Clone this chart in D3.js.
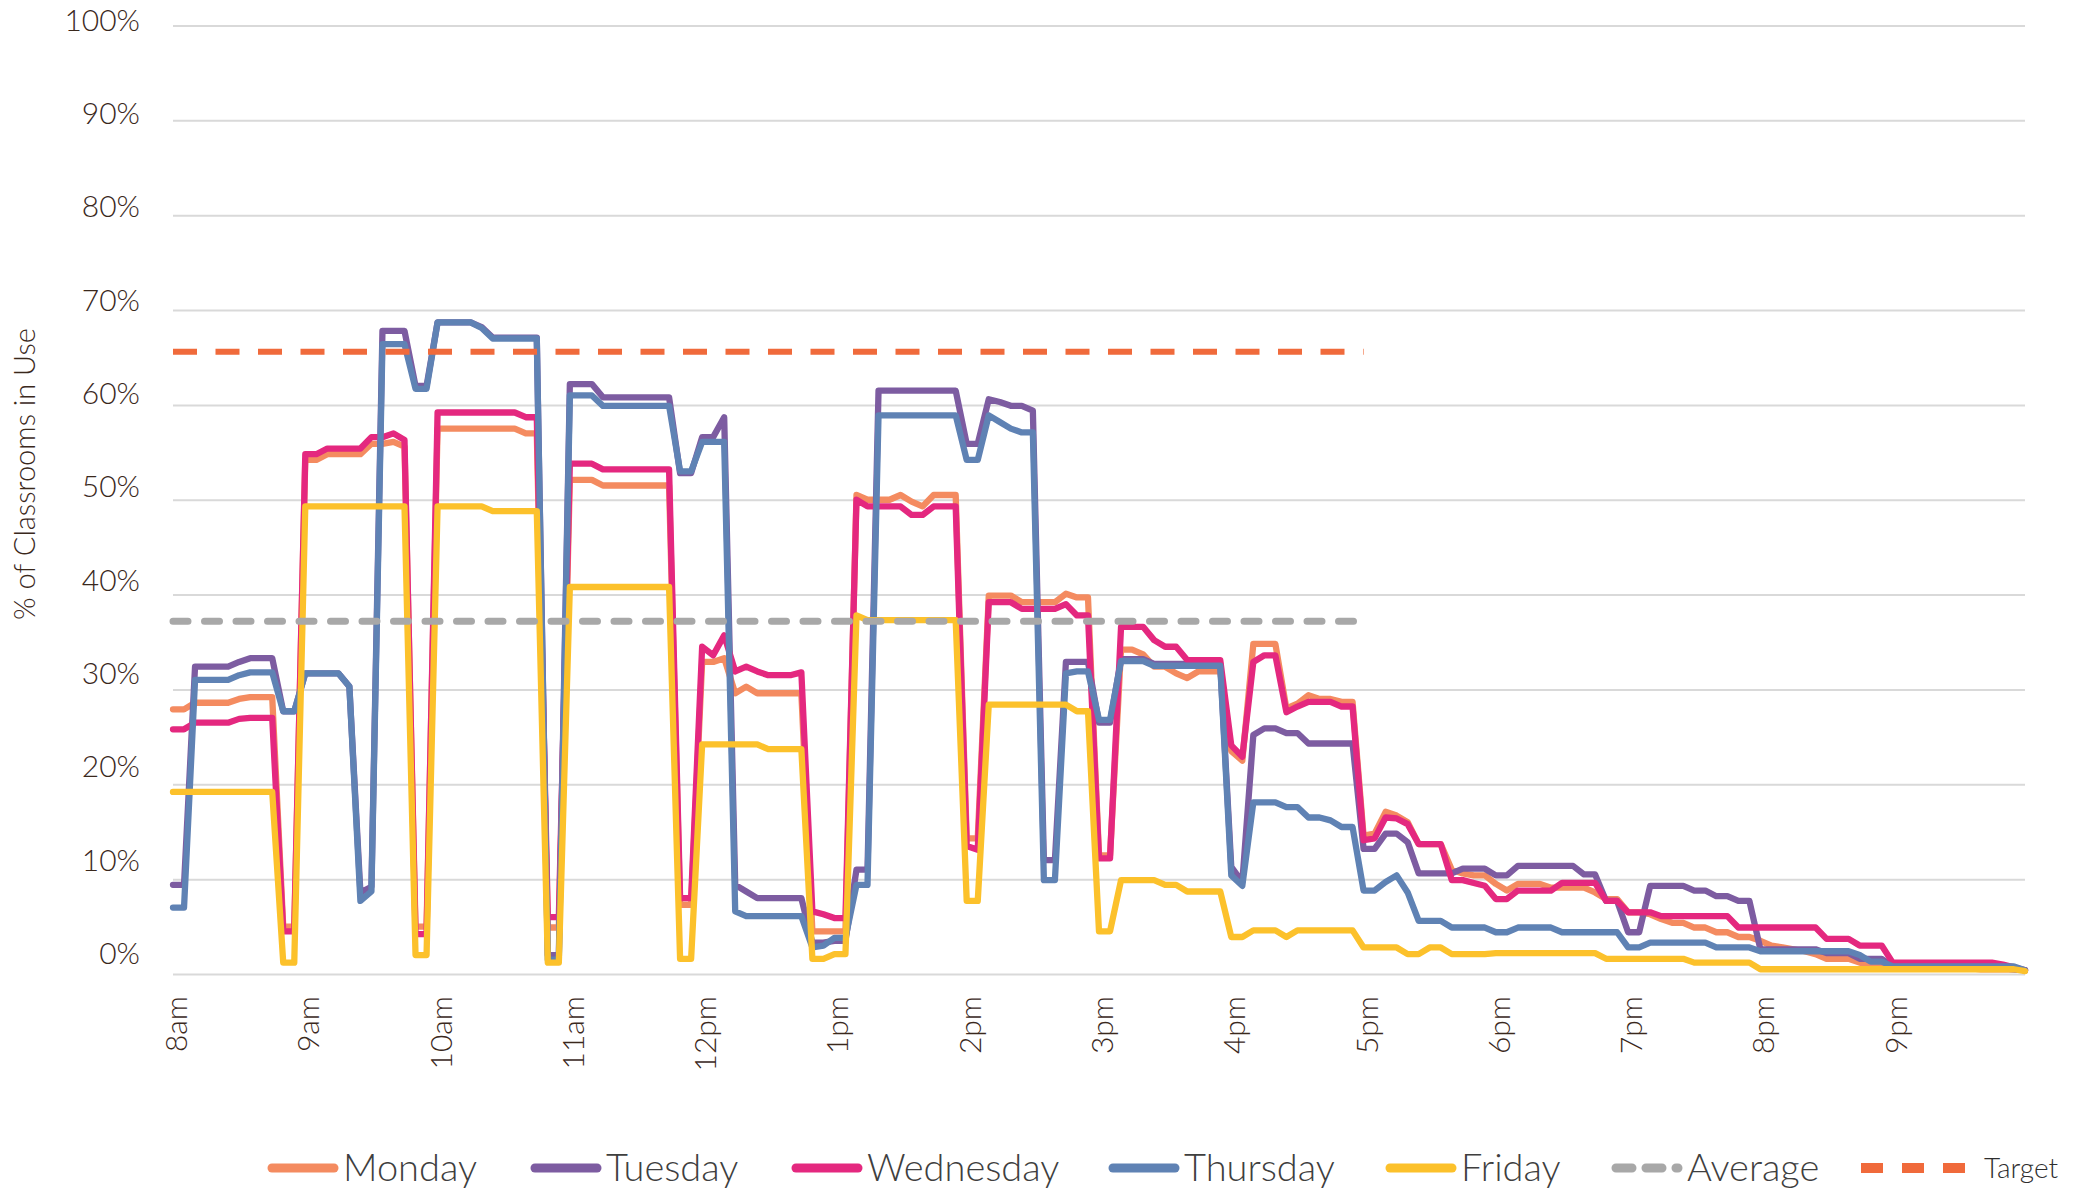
<!DOCTYPE html>
<html>
<head>
<meta charset="utf-8">
<script src="https://cdn.jsdelivr.net/npm/d3@7"></script>
<style>
  html, body { margin: 0; padding: 0; background: #fff; }
  svg { display: block; font-family: Lato, "Open Sans", sans-serif; font-weight: 300; }
</style>
</head>
<body>
<div id="chart"></div>
<script>
// Time slots in minutes after 8:00, every 5 minutes up to 22:00
const slots = d3.range(0, 845, 5);
const hourLabels = ['8am', '9am', '10am', '11am', '12pm', '1pm', '2pm',
                    '3pm', '4pm', '5pm', '6pm', '7pm', '8pm', '9pm'];
const yTicks = [0, 10, 20, 30, 40, 50, 60, 70, 80, 90, 100];

// % of classrooms in use, one row per hour (12 slots), last value = 22:00
const monday = [
  27.9, 27.9, 28.6, 28.6, 28.6, 28.6, 29.0, 29.2, 29.2, 29.2, 5.0, 5.0,
  54.2, 54.2, 54.8, 54.8, 54.8, 54.8, 55.9, 55.9, 56.1, 55.6, 5.0, 5.0,
  57.5, 57.5, 57.5, 57.5, 57.5, 57.5, 57.5, 57.5, 57.0, 57.0, 4.9, 4.9,
  52.1, 52.1, 52.1, 51.5, 51.5, 51.5, 51.5, 51.5, 51.5, 51.5, 7.3, 7.3,
  32.9, 32.9, 33.3, 29.6, 30.3, 29.6, 29.6, 29.6, 29.6, 29.6, 4.5, 4.5,
  4.5, 4.5, 50.5, 50.0, 50.0, 50.0, 50.5, 49.8, 49.3, 50.5, 50.5, 50.5,
  14.3, 14.3, 39.9, 39.9, 39.9, 39.2, 39.2, 39.2, 39.2, 40.1, 39.7, 39.7,
  12.5, 12.5, 34.2, 34.2, 33.7, 32.4, 32.4, 31.7, 31.2, 31.9, 31.9, 31.9,
  23.5, 22.5, 34.8, 34.8, 34.8, 28.0, 28.5, 29.4, 29.0, 29.0, 28.7, 28.7,
  14.6, 14.8, 17.1, 16.7, 16.0, 13.7, 13.7, 13.7, 11.0, 10.6, 10.4, 10.4,
  9.5, 8.8, 9.5, 9.5, 9.5, 9.1, 9.1, 9.1, 9.1, 8.6, 7.9, 7.9,
  6.5, 6.5, 6.3, 5.8, 5.4, 5.4, 4.9, 4.9, 4.4, 4.4, 3.9, 3.9,
  3.5, 3.0, 2.8, 2.6, 2.4, 2.1, 1.6, 1.6, 1.6, 1.2, 1.0, 0.8,
  0.7, 0.7, 0.7, 0.7, 0.6, 0.6, 0.6, 0.6, 0.5, 0.5, 0.5, 0.5,
  0.4
];

const tuesday = [
  9.4, 9.4, 32.4, 32.4, 32.4, 32.4, 32.9, 33.3, 33.3, 33.3, 27.7, 27.7,
  31.7, 31.7, 31.7, 31.7, 30.3, 8.6, 9.2, 67.8, 67.8, 67.8, 62.0, 62.0,
  68.7, 68.7, 68.7, 68.7, 68.2, 67.1, 67.1, 67.1, 67.1, 67.1, 2.0, 2.0,
  62.2, 62.2, 62.2, 60.8, 60.8, 60.8, 60.8, 60.8, 60.8, 60.8, 52.8, 52.8,
  56.6, 56.6, 58.7, 9.4, 8.7, 8.0, 8.0, 8.0, 8.0, 8.0, 3.3, 3.3,
  3.5, 3.5, 11.0, 11.0, 61.5, 61.5, 61.5, 61.5, 61.5, 61.5, 61.5, 61.5,
  55.9, 55.9, 60.6, 60.3, 59.9, 59.9, 59.4, 12.0, 12.0, 32.9, 32.9, 32.9,
  26.5, 26.5, 33.2, 33.2, 33.2, 32.7, 32.7, 32.7, 32.7, 32.7, 32.7, 32.7,
  11.3, 9.7, 25.2, 25.9, 25.9, 25.4, 25.4, 24.3, 24.3, 24.3, 24.3, 24.3,
  13.2, 13.2, 14.8, 14.8, 13.9, 10.6, 10.6, 10.6, 10.6, 11.1, 11.1, 11.1,
  10.4, 10.4, 11.4, 11.4, 11.4, 11.4, 11.4, 11.4, 10.5, 10.5, 7.7, 7.7,
  4.4, 4.4, 9.3, 9.3, 9.3, 9.3, 8.8, 8.8, 8.2, 8.2, 7.7, 7.7,
  2.6, 2.6, 2.6, 2.6, 2.6, 2.6, 2.2, 2.2, 2.2, 1.6, 1.6, 1.6,
  0.8, 0.8, 0.8, 0.8, 0.8, 0.8, 0.8, 0.8, 0.8, 0.7, 0.6, 0.5,
  0.4
];

const wednesday = [
  25.8, 25.8, 26.5, 26.5, 26.5, 26.5, 26.9, 27.0, 27.0, 27.0, 4.5, 4.5,
  54.8, 54.8, 55.4, 55.4, 55.4, 55.4, 56.6, 56.6, 57.0, 56.3, 4.2, 4.2,
  59.2, 59.2, 59.2, 59.2, 59.2, 59.2, 59.2, 59.2, 58.7, 58.7, 6.0, 6.0,
  53.8, 53.8, 53.8, 53.2, 53.2, 53.2, 53.2, 53.2, 53.2, 53.2, 8.0, 8.0,
  34.5, 33.6, 35.7, 31.9, 32.4, 31.9, 31.5, 31.5, 31.5, 31.8, 6.6, 6.3,
  5.9, 5.9, 50.0, 49.3, 49.3, 49.3, 49.3, 48.4, 48.4, 49.3, 49.3, 49.3,
  13.5, 13.1, 39.2, 39.2, 39.2, 38.5, 38.5, 38.5, 38.5, 39.0, 37.8, 37.8,
  12.2, 12.2, 36.6, 36.6, 36.6, 35.2, 34.5, 34.5, 33.1, 33.1, 33.1, 33.1,
  24.1, 22.9, 32.9, 33.6, 33.6, 27.6, 28.2, 28.7, 28.7, 28.7, 28.2, 28.2,
  14.1, 14.3, 16.5, 16.4, 15.8, 13.7, 13.7, 13.7, 9.9, 9.9, 9.6, 9.3,
  7.9, 7.9, 8.8, 8.8, 8.8, 8.8, 9.6, 9.6, 9.6, 9.6, 7.7, 7.7,
  6.5, 6.5, 6.5, 6.1, 6.1, 6.1, 6.1, 6.1, 6.1, 6.1, 4.9, 4.9,
  4.9, 4.9, 4.9, 4.9, 4.9, 4.9, 3.7, 3.7, 3.7, 3.0, 3.0, 3.0,
  1.2, 1.2, 1.2, 1.2, 1.2, 1.2, 1.2, 1.2, 1.2, 1.2, 1.0, 0.7,
  0.4
];

const thursday = [
  7.0, 7.0, 31.0, 31.0, 31.0, 31.0, 31.5, 31.8, 31.8, 31.8, 27.7, 27.7,
  31.7, 31.7, 31.7, 31.7, 30.3, 7.7, 8.7, 66.4, 66.4, 66.4, 61.7, 61.7,
  68.7, 68.7, 68.7, 68.7, 68.1, 67.0, 67.0, 67.0, 67.0, 67.0, 1.5, 1.5,
  61.0, 61.0, 61.0, 59.9, 59.9, 59.9, 59.9, 59.9, 59.9, 59.9, 53.0, 53.0,
  56.1, 56.1, 56.1, 6.6, 6.1, 6.1, 6.1, 6.1, 6.1, 6.1, 2.8, 3.0,
  3.8, 3.8, 9.4, 9.4, 58.9, 58.9, 58.9, 58.9, 58.9, 58.9, 58.9, 58.9,
  54.2, 54.2, 58.9, 58.2, 57.5, 57.1, 57.1, 9.9, 9.9, 31.7, 31.9, 31.9,
  26.8, 26.8, 33.0, 33.0, 33.0, 32.5, 32.5, 32.5, 32.5, 32.5, 32.5, 32.5,
  10.4, 9.3, 18.1, 18.1, 18.1, 17.6, 17.6, 16.5, 16.5, 16.2, 15.5, 15.5,
  8.8, 8.8, 9.7, 10.4, 8.6, 5.6, 5.6, 5.6, 4.9, 4.9, 4.9, 4.9,
  4.4, 4.4, 4.9, 4.9, 4.9, 4.9, 4.4, 4.4, 4.4, 4.4, 4.4, 4.4,
  2.8, 2.8, 3.3, 3.3, 3.3, 3.3, 3.3, 3.3, 2.8, 2.8, 2.8, 2.8,
  2.4, 2.4, 2.4, 2.4, 2.4, 2.4, 2.4, 2.4, 2.4, 2.0, 1.3, 1.3,
  0.8, 0.8, 0.8, 0.8, 0.8, 0.8, 0.8, 0.8, 0.8, 0.8, 0.8, 0.8,
  0.4
];

const friday = [
  19.2, 19.2, 19.2, 19.2, 19.2, 19.2, 19.2, 19.2, 19.2, 19.2, 1.2, 1.2,
  49.3, 49.3, 49.3, 49.3, 49.3, 49.3, 49.3, 49.3, 49.3, 49.3, 2.0, 2.0,
  49.3, 49.3, 49.3, 49.3, 49.3, 48.8, 48.8, 48.8, 48.8, 48.8, 1.2, 1.2,
  40.8, 40.8, 40.8, 40.8, 40.8, 40.8, 40.8, 40.8, 40.8, 40.8, 1.6, 1.6,
  24.2, 24.2, 24.2, 24.2, 24.2, 24.2, 23.7, 23.7, 23.7, 23.7, 1.6, 1.6,
  2.1, 2.1, 37.8, 37.3, 37.3, 37.3, 37.3, 37.3, 37.3, 37.3, 37.3, 37.3,
  7.7, 7.7, 28.4, 28.4, 28.4, 28.4, 28.4, 28.4, 28.4, 28.4, 27.7, 27.7,
  4.5, 4.5, 9.9, 9.9, 9.9, 9.9, 9.4, 9.4, 8.7, 8.7, 8.7, 8.7,
  3.9, 3.9, 4.6, 4.6, 4.6, 3.9, 4.6, 4.6, 4.6, 4.6, 4.6, 4.6,
  2.8, 2.8, 2.8, 2.8, 2.1, 2.1, 2.8, 2.8, 2.1, 2.1, 2.1, 2.1,
  2.2, 2.2, 2.2, 2.2, 2.2, 2.2, 2.2, 2.2, 2.2, 2.2, 1.6, 1.6,
  1.6, 1.6, 1.6, 1.6, 1.6, 1.6, 1.2, 1.2, 1.2, 1.2, 1.2, 1.2,
  0.5, 0.5, 0.5, 0.5, 0.5, 0.5, 0.5, 0.5, 0.5, 0.5, 0.5, 0.5,
  0.5, 0.5, 0.5, 0.5, 0.5, 0.5, 0.5, 0.5, 0.5, 0.5, 0.5, 0.5,
  0.3
];

// reference lines, drawn from 8am to 5pm
const averageValue = 37.2;
const targetValue = 65.6;
const refRange = [0, 540];

const dayNames = ['Monday', 'Tuesday', 'Wednesday', 'Thursday', 'Friday'];
const dayValues = [monday, tuesday, wednesday, thursday, friday];
const dayColors = ['#F48B60', '#7D5CA1', '#E4287F', '#5F82B4', '#FCC12B'];
const avgColor = '#A8A8A8';
const targetColor = '#F06A3B';
const textColor = '#3A281C';

// Layout
const width = 2087;
const height = 1189;
const plot = { left: 173, right: 2025, top: 25.5, bottom: 974 };

const svg = d3.select('#chart')
    .append('svg')
    .attr('width', width)
    .attr('height', height);

const x = d3.scaleLinear()
    .domain([0, 840])
    .range([plot.left, plot.right]);

const y = d3.scaleLinear()
    .domain([0, 100])
    .range([plot.bottom, plot.top]);

// the tick labels in the original sit slightly above their gridlines
const yLabel = d3.scaleLinear()
    .domain([0, 100])
    .range([954, 20.7]);

// Gridlines
svg.append('g')
    .attr('transform', `translate(${plot.left},0)`)
    .call(d3.axisLeft(y).tickValues(yTicks).tickSize(-(plot.right - plot.left)).tickFormat(''))
    .call(g => g.select('.domain').remove())
    .call(g => g.selectAll('line').attr('stroke', '#D9D9D9').attr('stroke-width', 2));

// Y tick labels
svg.append('g')
    .attr('transform', `translate(${plot.left},0)`)
    .call(d3.axisLeft(yLabel).tickValues(yTicks).tickSize(0).tickPadding(33).tickFormat(d => d + '%'))
    .call(g => g.select('.domain').remove())
    .call(g => g.selectAll('text')
        .attr('fill', textColor)
        .style('font-size', '30px')
        .style('font-weight', 300)
        .style('font-family', 'Lato, sans-serif'));

// X tick labels (rotated)
svg.append('g')
    .attr('transform', `translate(0,${plot.bottom})`)
    .call(d3.axisBottom(x).tickValues(hourLabels.map((d, i) => i * 60)).tickSize(0).tickFormat((d, i) => hourLabels[i]))
    .call(g => g.select('.domain').remove())
    .call(g => g.selectAll('text')
        .attr('transform', 'rotate(-90)')
        .attr('x', -22)
        .attr('y', 3)
        .attr('dy', '0.35em')
        .attr('fill', textColor)
        .style('text-anchor', 'end')
        .style('font-size', '30px')
        .style('font-weight', 300)
        .style('font-family', 'Lato, sans-serif'));

// Y axis title
svg.append('text')
    .attr('transform', `translate(25,${474}) rotate(-90)`)
    .attr('text-anchor', 'middle')
    .attr('dy', '0.35em')
    .attr('fill', textColor)
    .style('font-size', '29px')
    .text('% of Classrooms in Use');

// Series lines
const line = d3.line()
    .x(d => x(d.t))
    .y(d => y(d.v));

const series = dayNames.map((name, k) => ({
    name,
    color: dayColors[k],
    points: slots.map((t, i) => ({ t, v: dayValues[k][i] })).filter(d => d.v !== undefined)
}));

svg.append('g')
    .selectAll('path')
    .data(series)
    .join('path')
    .attr('fill', 'none')
    .attr('stroke', d => d.color)
    .attr('stroke-width', 6.3)
    .attr('stroke-linejoin', 'round')
    .attr('stroke-linecap', 'round')
    .attr('d', d => line(d.points));

// Average and target reference lines
svg.append('line')
    .attr('x1', x(refRange[0]))
    .attr('x2', x(refRange[1]))
    .attr('y1', y(averageValue))
    .attr('y2', y(averageValue))
    .attr('stroke', avgColor)
    .attr('stroke-width', 7)
    .attr('stroke-linecap', 'round')
    .attr('stroke-dasharray', '15,16.5');

svg.append('line')
    .attr('x1', x(refRange[0]))
    .attr('x2', x(refRange[1]))
    .attr('y1', y(targetValue))
    .attr('y2', y(targetValue))
    .attr('stroke', targetColor)
    .attr('stroke-width', 6)
    .attr('stroke-dasharray', '24,18.5');

// Legend
const legendY = 1168;
const legendItems = [
    { name: 'Monday', color: dayColors[0], x: 268, type: 'solid' },
    { name: 'Tuesday', color: dayColors[1], x: 531, type: 'solid' },
    { name: 'Wednesday', color: dayColors[2], x: 792, type: 'solid' },
    { name: 'Thursday', color: dayColors[3], x: 1109, type: 'solid' },
    { name: 'Friday', color: dayColors[4], x: 1386, type: 'solid' },
    { name: 'Average', color: avgColor, x: 1612, type: 'avg' },
    { name: 'Target', color: targetColor, x: 1861, type: 'target' }
];

const legend = svg.append('g')
    .selectAll('g')
    .data(legendItems)
    .join('g')
    .attr('transform', d => `translate(${d.x},${legendY})`);

legend.append('line')
    .attr('x1', d => d.type === 'target' ? 0 : 4)
    .attr('x2', d => d.type === 'target' ? 104 : 66)
    .attr('stroke', d => d.color)
    .attr('stroke-width', d => d.type === 'target' ? 10 : 9)
    .attr('stroke-linecap', d => d.type === 'target' ? 'butt' : 'round')
    .attr('stroke-dasharray', d => d.type === 'avg' ? '16,14' : d.type === 'target' ? '22,19' : null);

legend.append('text')
    .attr('x', d => d.type === 'target' ? 123 : 75)
    .attr('dy', '0.35em')
    .attr('fill', d => d.type === 'target' ? '#2e2e2e' : '#3f3f3f')
    .style('font-size', d => d.type === 'target' ? '28px' : '38px')
    .text(d => d.name);
</script>
</body>
</html>
